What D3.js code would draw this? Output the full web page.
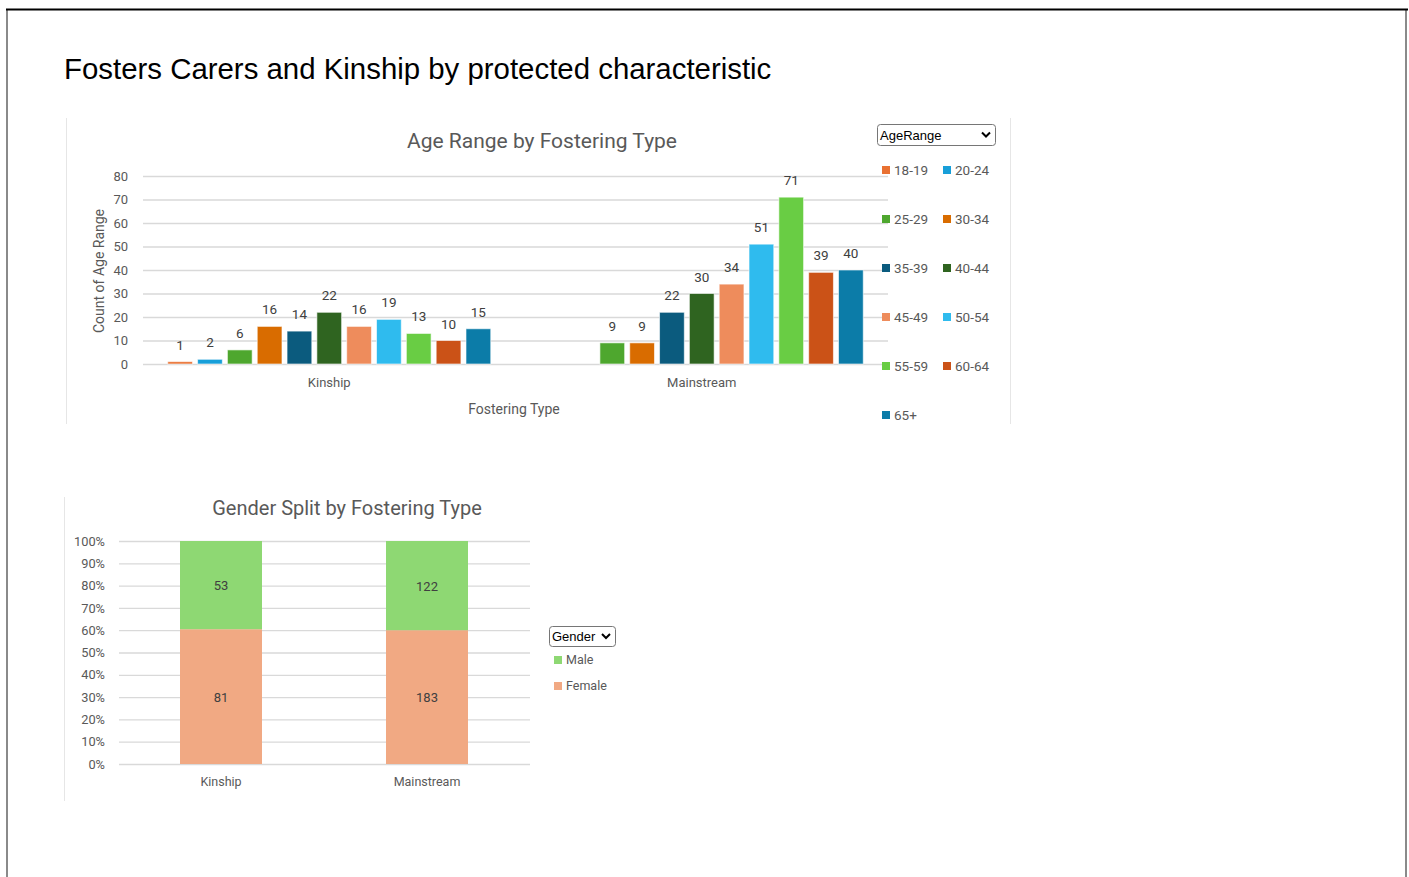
<!DOCTYPE html>
<html>
<head>
<meta charset="utf-8">
<script src="https://cdn.jsdelivr.net/npm/d3@7/dist/d3.min.js"></script>
<style>
  html, body { margin: 0; padding: 0; background: #fff; }
  svg { display: block; }
  text { font-family: Roboto, "Noto Sans", sans-serif; }
</style>
</head>
<body>
<svg id="page" width="1409" height="877"></svg>
<script>
// ---- data ----
const fosteringTypes = ["Kinship", "Mainstream"];
const ageRanges = ["18-19", "20-24", "25-29", "30-34", "35-39", "40-44", "45-49", "50-54", "55-59", "60-64", "65+"];
const kinshipCounts = [1, 2, 6, 16, 14, 22, 16, 19, 13, 10, 15];
const mainstreamCounts = [null, null, 9, 9, 22, 30, 34, 51, 71, 39, 40];
const ageColors = ["#e97132", "#179fd9", "#4ea72e", "#d96c00", "#0b5b7e", "#2f6420", "#ee8c5c", "#2fbbee", "#69cd44", "#cb5217", "#0c7ca8"];
const ageTicks = [0, 10, 20, 30, 40, 50, 60, 70, 80];

const genders = ["Female", "Male"];
const femaleCounts = [81, 183];
const maleCounts = [53, 122];
const genderColors = { Male: "#8ed873", Female: "#f1a983" };
const pctTicks = [0, 0.1, 0.2, 0.3, 0.4, 0.5, 0.6, 0.7, 0.8, 0.9, 1];

const svg = d3.select("#page");
const gridColor = "#d9d9d9";
const labelColor = "#595959";

// ---- page frame ----
svg.append("line").attr("x1", 7).attr("x2", 7).attr("y1", 9).attr("y2", 877)
  .attr("stroke", "#8a8a8a").attr("stroke-width", 2);
svg.append("line").attr("x1", 1406).attr("x2", 1406).attr("y1", 9).attr("y2", 877)
  .attr("stroke", "#8a8a8a").attr("stroke-width", 2);
svg.append("line").attr("x1", 6).attr("x2", 1408).attr("y1", 9.5).attr("y2", 9.5)
  .attr("stroke", "#000").attr("stroke-width", 2);

svg.append("text").attr("x", 64).attr("y", 79)
  .style("font-family", "'Liberation Sans', Arial, sans-serif")
  .style("font-size", "29.4px").attr("fill", "#000")
  .text("Fosters Carers and Kinship by protected characteristic");

// dropdown slicer box used by both legends
function dropdown(g, x, y, w, h, label) {
  g.append("rect").attr("x", x + 0.5).attr("y", y + 0.5).attr("width", w).attr("height", h)
    .attr("rx", 3).attr("fill", "#fff").attr("stroke", "#767676");
  g.append("text").attr("x", x + 3).attr("y", y + h / 2 + 5)
    .style("font-family", "'Liberation Sans', Arial, sans-serif")
    .style("font-size", "13px").attr("fill", "#000").text(label);
  const cx = x + w - 9, cy = y + h / 2;
  g.append("path").attr("d", `M${cx - 4},${cy - 2} L${cx},${cy + 2} L${cx + 4},${cy - 2}`)
    .attr("fill", "none").attr("stroke", "#000").attr("stroke-width", 2);
}

// ---- Age Range by Fostering Type ----
{
  const g = svg.append("g");
  // pane edges
  g.append("line").attr("x1", 66.5).attr("x2", 66.5).attr("y1", 118).attr("y2", 424).attr("stroke", "#e6e6e6");
  g.append("line").attr("x1", 1010.5).attr("x2", 1010.5).attr("y1", 118).attr("y2", 424).attr("stroke", "#e6e6e6");

  const groupW = 323;
  const x0 = d3.scaleBand().domain(fosteringTypes).range([143, 888]);
  const x1 = d3.scaleBand().domain(ageRanges).range([0, groupW]).paddingInner(0.17);
  const y = d3.scaleLinear().domain([0, 80]).range([364, 176]);
  const groupOffset = (x0.bandwidth() - groupW) / 2;

  const yAxis = g.append("g").attr("transform", "translate(143,0)")
    .call(d3.axisLeft(y).tickValues(ageTicks).tickSize(-745).tickPadding(15));
  yAxis.select(".domain").remove();
  yAxis.selectAll(".tick line").attr("stroke", gridColor).attr("stroke-width", 1.3);
  yAxis.selectAll(".tick text").attr("fill", labelColor).style("font-size", "13px")
    .style("font-family", "Roboto, sans-serif");

  g.append("text").attr("transform", "translate(104,271) rotate(-90)").attr("text-anchor", "middle")
    .attr("fill", labelColor).style("font-size", "14px").text("Count of Age Range");

  g.append("text").attr("x", 542).attr("y", 148).attr("text-anchor", "middle")
    .attr("fill", labelColor).style("font-size", "21px").text("Age Range by Fostering Type");

  const series = [kinshipCounts, mainstreamCounts];
  fosteringTypes.forEach((ft, i) => {
    const gx = x0(ft) + groupOffset;
    const rows = ageRanges.map((a, j) => ({ a, v: series[i][j], c: ageColors[j] })).filter(d => d.v != null);
    const bars = g.append("g").attr("transform", `translate(${gx},0)`);
    bars.selectAll("rect").data(rows).join("rect")
      .attr("x", d => x1(d.a)).attr("width", x1.bandwidth())
      .attr("y", d => y(d.v)).attr("height", d => y(0) - y(d.v))
      .attr("fill", d => d.c).attr("stroke", "#fff").attr("stroke-opacity", 0.6);
    bars.selectAll("text").data(rows).join("text")
      .attr("x", d => x1(d.a) + x1.bandwidth() / 2).attr("y", d => y(d.v) - 12)
      .attr("text-anchor", "middle").attr("fill", "#404040").style("font-size", "13.5px")
      .text(d => d.v);
    g.append("text").attr("x", x0(ft) + x0.bandwidth() / 2).attr("y", 387).attr("text-anchor", "middle")
      .attr("fill", labelColor).style("font-size", "13px").text(ft);
  });

  g.append("text").attr("x", 514).attr("y", 414).attr("text-anchor", "middle")
    .attr("fill", labelColor).style("font-size", "14px").text("Fostering Type");

  dropdown(g, 877, 124, 118, 21, "AgeRange");
  const legend = g.append("g");
  ageRanges.forEach((a, j) => {
    const col = j % 2, row = Math.floor(j / 2);
    const lx = 882 + col * 61, ly = 170 + row * 49;
    legend.append("rect").attr("x", lx).attr("y", ly - 4).attr("width", 8).attr("height", 8).attr("fill", ageColors[j]);
    legend.append("text").attr("x", lx + 12).attr("y", ly + 5).attr("fill", labelColor)
      .style("font-size", "13.5px").text(a);
  });
}

// ---- Gender Split by Fostering Type ----
{
  const g = svg.append("g");
  g.append("line").attr("x1", 64.5).attr("x2", 64.5).attr("y1", 497).attr("y2", 801).attr("stroke", "#e6e6e6");

  const x = d3.scaleBand().domain(fosteringTypes).range([118, 530]).paddingInner(0).paddingOuter(0);
  const barW = 82;
  const y = d3.scaleLinear().domain([0, 1]).range([764, 541]);

  const yAxis = g.append("g").attr("transform", "translate(119,0)")
    .call(d3.axisLeft(y).tickValues(pctTicks).tickFormat(d3.format(".0%")).tickSize(-411).tickPadding(14));
  yAxis.select(".domain").remove();
  yAxis.selectAll(".tick line").attr("stroke", gridColor).attr("stroke-width", 1.3);
  yAxis.selectAll(".tick text").attr("fill", labelColor).style("font-size", "12.8px")
    .style("font-family", "Roboto, sans-serif");

  g.append("text").attr("x", 347).attr("y", 515).attr("text-anchor", "middle")
    .attr("fill", labelColor).style("font-size", "20px").text("Gender Split by Fostering Type");

  const rows = fosteringTypes.map((ft, i) => ({ ft, Female: femaleCounts[i], Male: maleCounts[i], total: femaleCounts[i] + maleCounts[i] }));
  const stacked = d3.stack().keys(genders).value((d, k) => d[k] / d.total)(rows);

  stacked.forEach(layer => {
    const key = layer.key;
    const lg = g.append("g");
    lg.selectAll("rect").data(layer).join("rect")
      .attr("x", d => x(d.data.ft) + (x.bandwidth() - barW) / 2).attr("width", barW)
      .attr("y", d => y(d[1])).attr("height", d => y(d[0]) - y(d[1]))
      .attr("fill", genderColors[key]);
    lg.selectAll("text").data(layer).join("text")
      .attr("x", d => x(d.data.ft) + x.bandwidth() / 2).attr("y", d => (y(d[0]) + y(d[1])) / 2 + 5)
      .attr("text-anchor", "middle").attr("fill", "#404040").style("font-size", "13px")
      .text(d => d.data[key]);
  });

  fosteringTypes.forEach(ft => {
    g.append("text").attr("x", x(ft) + x.bandwidth() / 2).attr("y", 786).attr("text-anchor", "middle")
      .attr("fill", labelColor).style("font-size", "12.5px").text(ft);
  });

  dropdown(g, 549, 626, 66, 20, "Gender");
  ["Male", "Female"].forEach((k, j) => {
    const ly = 660 + j * 26;
    g.append("rect").attr("x", 554).attr("y", ly - 4).attr("width", 8).attr("height", 8).attr("fill", genderColors[k]);
    g.append("text").attr("x", 566).attr("y", ly + 4).attr("fill", labelColor).style("font-size", "12.5px").text(k);
  });
}
</script>
</body>
</html>
